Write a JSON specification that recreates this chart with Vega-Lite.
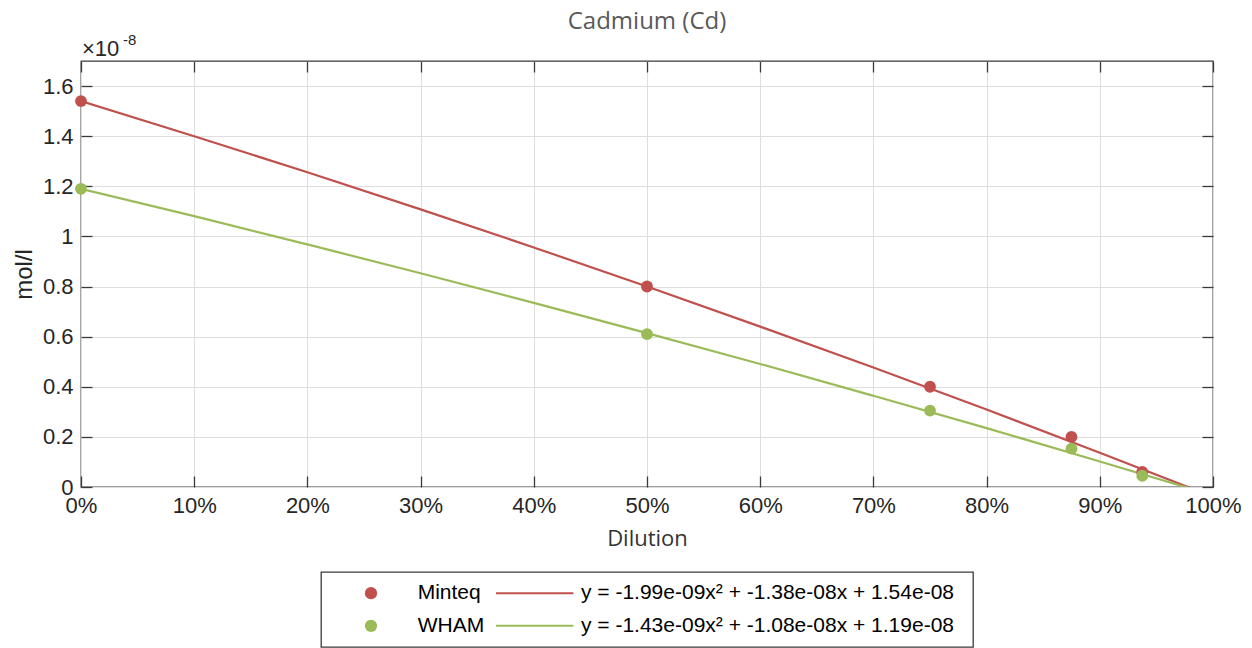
{
  "$schema": "https://vega.github.io/schema/vega-lite/v6.json",
  "padding": {"left": 11, "top": 9, "right": 0, "bottom": 0},
  "background": "white",
  "bounds": "flush",
  "center": true,
  "spacing": 85,
  "config": {
    "view": {"stroke": "#3a3a3a", "strokeWidth": 1.3},
    "axis": {
      "labelFont": "Liberation Sans",
      "labelFontSize": 22,
      "labelColor": "#262626",
      "titleFont": "Liberation Sans",
      "titleFontSize": 24,
      "titleColor": "#262626",
      "titleFontWeight": "normal",
      "tickColor": "#3a3a3a",
      "tickWidth": 1.3,
      "gridColor": "#dedede",
      "gridWidth": 1,
      "domain": false
    }
  },
  "datasets": {
    "observed": [
      {"series": "Minteq", "dilution": 0, "value": 1.54},
      {"series": "Minteq", "dilution": 0.5, "value": 0.80},
      {"series": "Minteq", "dilution": 0.75, "value": 0.40},
      {"series": "Minteq", "dilution": 0.875, "value": 0.20},
      {"series": "Minteq", "dilution": 0.9375, "value": 0.06},
      {"series": "WHAM", "dilution": 0, "value": 1.19},
      {"series": "WHAM", "dilution": 0.5, "value": 0.61},
      {"series": "WHAM", "dilution": 0.75, "value": 0.305},
      {"series": "WHAM", "dilution": 0.875, "value": 0.153},
      {"series": "WHAM", "dilution": 0.9375, "value": 0.045}
    ],
    "fit": [
      {"series": "Minteq", "dilution": 0, "value": 1.540},
      {"series": "Minteq", "dilution": 0.1, "value": 1.400},
      {"series": "Minteq", "dilution": 0.2, "value": 1.256},
      {"series": "Minteq", "dilution": 0.3, "value": 1.108},
      {"series": "Minteq", "dilution": 0.4, "value": 0.956},
      {"series": "Minteq", "dilution": 0.5, "value": 0.800},
      {"series": "Minteq", "dilution": 0.6, "value": 0.640},
      {"series": "Minteq", "dilution": 0.7, "value": 0.477},
      {"series": "Minteq", "dilution": 0.8, "value": 0.309},
      {"series": "Minteq", "dilution": 0.9, "value": 0.137},
      {"series": "Minteq", "dilution": 1.0, "value": -0.039},
      {"series": "WHAM", "dilution": 0, "value": 1.190},
      {"series": "WHAM", "dilution": 0.1, "value": 1.081},
      {"series": "WHAM", "dilution": 0.2, "value": 0.968},
      {"series": "WHAM", "dilution": 0.3, "value": 0.853},
      {"series": "WHAM", "dilution": 0.4, "value": 0.735},
      {"series": "WHAM", "dilution": 0.5, "value": 0.614},
      {"series": "WHAM", "dilution": 0.6, "value": 0.491},
      {"series": "WHAM", "dilution": 0.7, "value": 0.364},
      {"series": "WHAM", "dilution": 0.8, "value": 0.235},
      {"series": "WHAM", "dilution": 0.9, "value": 0.102},
      {"series": "WHAM", "dilution": 1.0, "value": -0.033}
    ],
    "legend": [
      {"series": "Minteq", "equation": "y = -1.99e-09x² + -1.38e-08x + 1.54e-08"},
      {"series": "WHAM", "equation": "y = -1.43e-09x² + -1.08e-08x + 1.19e-08"}
    ],
    "multiplier": [{"base": "×10", "exponent": "-8"}]
  },
  "vconcat": [
    {
      "width": 1132,
      "height": 426,
      "title": {"text": "Cadmium (Cd)", "font": "Open Sans", "fontSize": 24, "fontWeight": "normal", "color": "#595959", "anchor": "middle", "offset": -1},
      "layer": [
        {
          "data": {"name": "fit"},
          "mark": {"type": "line", "strokeWidth": 2.2, "clip": true, "interpolate": "monotone"},
          "encoding": {
            "x": {"field": "dilution", "type": "quantitative",
              "scale": {"domain": [0, 1], "nice": false, "zero": false},
              "axis": {"orient": "bottom", "values": [0, 0.1, 0.2, 0.3, 0.4, 0.5, 0.6, 0.7, 0.8, 0.9, 1], "format": ".0%", "labelFlush": false, "grid": true, "tickSize": -11, "labelPadding": 19, "title": "Dilution", "titleFont": "Open Sans", "titleFontSize": 22, "titleColor": "#333333", "titlePadding": 12}},
            "y": {"field": "value", "type": "quantitative",
              "scale": {"domain": [0, 1.7], "nice": false, "zero": false},
              "axis": {"orient": "left", "values": [0, 0.2, 0.4, 0.6, 0.8, 1, 1.2, 1.4, 1.6], "format": "~g", "labelFlush": false, "grid": true, "tickSize": -11, "labelPadding": 19, "title": "mol/l", "titlePadding": 6}},
            "color": {"field": "series", "type": "nominal", "scale": {"domain": ["Minteq", "WHAM"], "range": ["#c0504d", "#9bbb59"]}, "legend": null}
          }
        },
        {
          "data": {"name": "observed"},
          "mark": {"type": "point", "filled": true, "opacity": 1, "size": 140},
          "encoding": {
            "x": {"field": "dilution", "type": "quantitative", "axis": null},
            "y": {"field": "value", "type": "quantitative", "axis": null},
            "color": {"field": "series", "type": "nominal", "legend": null}
          }
        },
        {
          "data": {"name": "observed"},
          "mark": {"type": "point", "opacity": 0},
          "encoding": {
            "x": {"field": "dilution", "type": "quantitative",
              "axis": {"orient": "top", "values": [0, 0.1, 0.2, 0.3, 0.4, 0.5, 0.6, 0.7, 0.8, 0.9, 1], "labels": false, "grid": false, "tickSize": -11, "title": null}},
            "y": {"field": "value", "type": "quantitative",
              "axis": {"orient": "right", "values": [0, 0.2, 0.4, 0.6, 0.8, 1, 1.2, 1.4, 1.6], "labels": false, "grid": false, "tickSize": -11, "title": null}}
          }
        },
        {
          "data": {"name": "multiplier"},
          "mark": {"type": "text", "align": "left", "baseline": "alphabetic", "font": "Liberation Sans", "fontSize": 22, "color": "#262626", "dx": 1, "dy": -5},
          "encoding": {
            "x": {"datum": 0, "type": "quantitative", "axis": null},
            "y": {"datum": 1.7, "type": "quantitative", "axis": null},
            "text": {"field": "base", "type": "nominal"}
          }
        },
        {
          "data": {"name": "multiplier"},
          "mark": {"type": "text", "align": "left", "baseline": "alphabetic", "font": "Liberation Sans", "fontSize": 15, "color": "#262626", "dx": 42, "dy": -16},
          "encoding": {
            "x": {"datum": 0, "type": "quantitative", "axis": null},
            "y": {"datum": 1.7, "type": "quantitative", "axis": null},
            "text": {"field": "exponent", "type": "nominal"}
          }
        }
      ],
      "resolve": {"axis": {"x": "independent", "y": "independent"}}
    },
    {
      "width": 652,
      "height": 75,
      "data": {"name": "legend"},
      "encoding": {
        "y": {"field": "series", "type": "nominal", "scale": {"type": "point", "domain": ["Minteq", "WHAM"], "padding": 0.65}, "axis": null}
      },
      "layer": [
        {
          "mark": {"type": "point", "filled": true, "opacity": 1, "size": 150},
          "encoding": {
            "x": {"datum": 50, "type": "quantitative", "scale": {"domain": [0, 652], "nice": false, "zero": false}, "axis": null},
            "color": {"field": "series", "type": "nominal", "scale": {"domain": ["Minteq", "WHAM"], "range": ["#c0504d", "#9bbb59"]}, "legend": null}
          }
        },
        {
          "mark": {"type": "text", "align": "left", "baseline": "middle", "font": "Liberation Sans", "fontSize": 21, "color": "#000000"},
          "encoding": {
            "x": {"datum": 96.7, "type": "quantitative"},
            "text": {"field": "series", "type": "nominal"}
          }
        },
        {
          "mark": {"type": "rule", "strokeWidth": 2},
          "encoding": {
            "x": {"datum": 175, "type": "quantitative"},
            "x2": {"datum": 252.4},
            "color": {"field": "series", "type": "nominal", "legend": null}
          }
        },
        {
          "mark": {"type": "text", "align": "left", "baseline": "middle", "font": "Liberation Sans", "fontSize": 21, "color": "#000000"},
          "encoding": {
            "x": {"datum": 260, "type": "quantitative"},
            "text": {"field": "equation", "type": "nominal"}
          }
        }
      ]
    }
  ]
}
